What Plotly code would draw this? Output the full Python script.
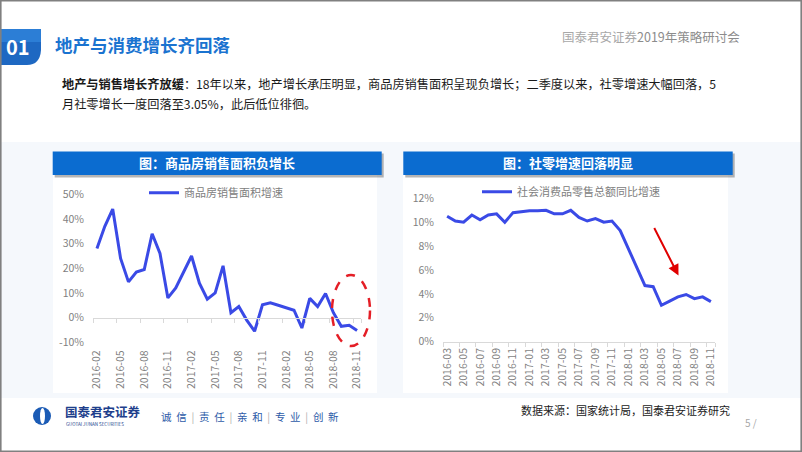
import plotly.graph_objects as go

# ---------------- data ----------------
left_months = ["2016-02", "2016-03", "2016-04", "2016-05", "2016-06", "2016-07", "2016-08", "2016-09",
               "2016-10", "2016-11", "2016-12", "2017-01", "2017-02", "2017-03", "2017-04", "2017-05",
               "2017-06", "2017-07", "2017-08", "2017-09", "2017-10", "2017-11", "2017-12", "2018-01",
               "2018-02", "2018-03", "2018-04", "2018-05", "2018-06", "2018-07", "2018-08", "2018-09",
               "2018-10", "2018-11"]
housing_area_growth = [28, 37, 44, 24, 14.5, 18.5, 19.5, 34, 26, 8, 12, 18.5, 25, 14, 7.5, 10,
                       21, 2, 4.5, -1, -5.5, 5.2, 6, 5, 4, 3, -4.2, 7.8, 4.5, 9.8, 2, -3.5,
                       -3.1, -5.2]
left_tickvals = ["2016-02", "2016-05", "2016-08", "2016-11", "2017-02", "2017-05", "2017-08",
                 "2017-11", "2018-02", "2018-05", "2018-08", "2018-11"]
left_yticks = [-10, 0, 10, 20, 30, 40, 50]
left_ylabels = ["-10%", "0%", "10%", "20%", "30%", "40%", "50%"]

right_months = ["2016-03", "2016-04", "2016-05", "2016-06", "2016-07", "2016-08", "2016-09", "2016-10",
                "2016-11", "2016-12", "2017-01", "2017-02", "2017-03", "2017-04", "2017-05", "2017-06",
                "2017-07", "2017-08", "2017-09", "2017-10", "2017-11", "2017-12", "2018-01", "2018-02",
                "2018-03", "2018-04", "2018-05", "2018-06", "2018-07", "2018-08", "2018-09", "2018-10",
                "2018-11"]
retail_growth = [10.5, 10.1, 10.0, 10.6, 10.2, 10.6, 10.7, 10.0, 10.8, 10.9, 10.95, 10.95, 11.0,
                 10.7, 10.7, 11.0, 10.4, 10.1, 10.3, 10.0, 10.1, 9.3, 7.8, 6.2, 4.7, 4.6, 3.05,
                 3.4, 3.75, 3.95, 3.6, 3.75, 3.35]
right_tickvals = ["2016-03", "2016-05", "2016-07", "2016-09", "2016-11", "2017-01", "2017-03",
                  "2017-05", "2017-07", "2017-09", "2017-11", "2018-01", "2018-03", "2018-05",
                  "2018-07", "2018-09", "2018-11"]
right_yticks = [0, 2, 4, 6, 8, 10, 12]
right_ylabels = ["0%", "2%", "4%", "6%", "8%", "10%", "12%"]

left_series_name = "商品房销售面积增速"
right_series_name = "社会消费品零售总额同比增速"
motto_words = ["诚信", "责任", "亲和", "专业", "创新"]

# ---------------- helpers ----------------
W, H = 802, 452
FONT = "Noto Sans CJK SC"
LINE_BLUE = "#3A4AE6"
BAR_BLUE = "#0B6CD0"
TICK_GREY = "#7f7f7f"
AXIS_GREY = "#D9D9D9"


def X(px):
    return px / W


def Y(py):
    return 1 - py / H


LEFT_YRANGE = [-10, 50]
LEFT_YDOM = [Y(342.3), Y(194.3)]
# paper position of the 0% level on the left chart (for the category axis line with ticks)
zero_pos = LEFT_YDOM[0] + (0 - LEFT_YRANGE[0]) / (LEFT_YRANGE[1] - LEFT_YRANGE[0]) * (LEFT_YDOM[1] - LEFT_YDOM[0])

fig = go.Figure()

fig.add_trace(go.Scatter(x=left_months, y=housing_area_growth, mode="lines",
                         line=dict(color=LINE_BLUE, width=3), name=left_series_name,
                         xaxis="x", yaxis="y", legend="legend"))
# invisible copy that drives the 0%-level axis line carrying the tick marks
fig.add_trace(go.Scatter(x=left_months, y=housing_area_growth, mode="lines", opacity=0,
                         line=dict(width=0), showlegend=False, hoverinfo="skip",
                         xaxis="x3", yaxis="y"))
fig.add_trace(go.Scatter(x=right_months, y=retail_growth, mode="lines",
                         line=dict(color=LINE_BLUE, width=3), name=right_series_name,
                         xaxis="x2", yaxis="y2", legend="legend2"))

axis_font = dict(family=FONT, size=10.5, color=TICK_GREY)

shapes = []
# slide background tint
shapes.append(dict(type="rect", xref="paper", yref="paper", x0=X(0), x1=X(802), y0=Y(398), y1=Y(142),
                   fillcolor="#F5F8FC", line=dict(width=0), layer="below"))
# white panels
for x0, x1 in [(53, 377), (403, 728)]:
    shapes.append(dict(type="rect", xref="paper", yref="paper", x0=X(x0), x1=X(x1), y0=Y(393), y1=Y(175),
                       fillcolor="white", line=dict(width=0), layer="below"))
# blue title bars with shadow
for x0, x1 in [(52.7, 381.7), (403.3, 732.7)]:
    shapes.append(dict(type="rect", xref="paper", yref="paper", x0=X(x0 + 2), x1=X(x1 + 2),
                       y0=Y(177.5), y1=Y(153.5), fillcolor="rgba(90,90,90,0.45)", line=dict(width=0),
                       layer="below"))
    shapes.append(dict(type="rect", xref="paper", yref="paper", x0=X(x0), x1=X(x1),
                       y0=Y(175), y1=Y(151.5), fillcolor=BAR_BLUE, line=dict(width=0), layer="below"))
# "01" badge
shapes.append(dict(type="path", xref="paper", yref="paper",
                   path="M %f %f L %f %f L %f %f Q %f %f %f %f L %f %f Z" % (
                       X(0), Y(29), X(41), Y(29), X(41), Y(50), X(40), Y(65), X(27), Y(65), X(0), Y(65)),
                   fillcolor="#1E68C2", line=dict(width=0), layer="below"))
shapes.append(dict(type="path", xref="paper", yref="paper",
                   path="M %f %f L %f %f L %f %f L %f %f Z" % (X(0), Y(29), X(41), Y(29), X(41), Y(42), X(0), Y(42)),
                   fillcolor="#2C7ED6", line=dict(width=0), layer="below"))
# red dashed ellipse
shapes.append(dict(type="circle", xref="paper", yref="paper", x0=X(332), x1=X(370), y0=Y(346), y1=Y(275),
                   line=dict(color="#E41E26", width=2.5, dash="dash"), layer="above"))
# footer logo
shapes.append(dict(type="circle", xref="paper", yref="paper", x0=X(33), x1=X(51), y0=Y(425), y1=Y(407),
                   fillcolor="#1B5BB5", line=dict(width=0)))
shapes.append(dict(type="circle", xref="paper", yref="paper", x0=X(40), x1=X(45), y0=Y(424), y1=Y(408),
                   fillcolor="white", line=dict(width=0)))
# slide border
shapes.append(dict(type="rect", xref="paper", yref="paper", x0=X(0.8), x1=X(801.2), y0=Y(451.2), y1=Y(0.8),
                   line=dict(color="#808080", width=1.6), fillcolor="rgba(0,0,0,0)"))

ann = []


def text(x, y, s, size, color, xanchor="left", bold=False, family=FONT):
    ann.append(dict(xref="paper", yref="paper", x=X(x), y=Y(y), text=("<b>%s</b>" % s) if bold else s,
                    showarrow=False, xanchor=xanchor, yanchor="middle",
                    font=dict(family=family, size=size, color=color)))


text(18, 46.5, "01", 20, "white", xanchor="center", bold=True)
text(53, 44, "地产与消费增长齐回落", 17.5, "#1A73D0", bold=True)
text(560, 37, "<span style='color:#a8a8a8'>国泰君安证券</span>2019年策略研讨会", 12.5, "#8c8c8c")
text(60, 83.5, "<b>地产与销售增长齐放缓</b>：18年以来，地产增长承压明显，商品房销售面积呈现负增长；二季度以来，社零增速大幅回落，5",
     12.2, "#1a1a1a")
text(60, 104.5, "月社零增长一度回落至3.05%，此后低位徘徊。", 12.2, "#1a1a1a")
text(217, 162.5, "图：商品房销售面积负增长", 13, "white", xanchor="center", bold=True)
text(568, 162.5, "图：社零增速回落明显", 13, "white", xanchor="center", bold=True)
# footer
text(63, 411.5, "国泰君安证券", 12.5, "#1E3F8C", bold=True)
text(64, 424.3, "GUOTAI JUNAN SECURITIES", 4.5, "#1E3F8C")
gap = "&nbsp;&nbsp;"
sep = gap + "<span style='color:#b0b0b0'>|</span>" + gap
motto = sep.join(w[0] + gap + w[1] for w in motto_words)
text(159, 416, motto, 10.5, "#2D5BA8")
text(519, 410, "数据来源：国家统计局，国泰君安证券研究", 11, "#222222")
text(743, 422, "5 /", 10, "#a8a8a8")
# red arrow
ann.append(dict(xref="paper", yref="paper", x=X(678.5), y=Y(275.5), ax=-25, ay=-49, axref="pixel",
                ayref="pixel", showarrow=True, arrowhead=2, arrowsize=1.1, arrowwidth=2,
                arrowcolor="#E00000", text=""))

fig.update_layout(
    width=W, height=H, margin=dict(l=0, r=0, t=0, b=0, pad=0, autoexpand=False),
    paper_bgcolor="white", plot_bgcolor="rgba(0,0,0,0)",
    font=dict(family=FONT),
    showlegend=True,
    xaxis=dict(domain=[X(93), X(361)], anchor="y", type="category", categoryorder="array",
               categoryarray=left_months, range=[-0.5, len(left_months) - 0.5],
               tickmode="array", tickvals=left_tickvals, tickangle=-90, tickfont=axis_font,
               showgrid=False, showline=False, zeroline=False, ticks="", ticklabelstandoff=5,
               automargin=False),
    xaxis3=dict(domain=[X(93), X(361)], overlaying="x", anchor="free", position=zero_pos,
                type="category", categoryorder="array", categoryarray=left_months,
                range=[-0.5, len(left_months) - 0.5], tickmode="array", tickvals=left_tickvals,
                showticklabels=False, showgrid=False, zeroline=False, showline=True,
                linecolor=AXIS_GREY, linewidth=1.2, ticks="outside", ticklen=4, tickcolor=AXIS_GREY,
                tickson="boundaries", automargin=False),
    yaxis=dict(domain=LEFT_YDOM, anchor="x", range=LEFT_YRANGE, tickmode="array",
               tickvals=left_yticks, ticktext=left_ylabels, tickfont=axis_font, showgrid=False,
               zeroline=False, showline=False, ticklabelstandoff=8, automargin=False),
    xaxis2=dict(domain=[X(443), X(715)], anchor="y2", type="category", categoryorder="array",
                categoryarray=right_months, range=[-0.5, len(right_months) - 0.5],
                tickmode="array", tickvals=right_tickvals, tickangle=-90, tickfont=axis_font,
                showgrid=False, showline=True, linecolor=AXIS_GREY, linewidth=1.2, zeroline=False,
                ticks="outside", ticklen=4, tickcolor=AXIS_GREY, tickson="boundaries",
                ticklabelstandoff=1, automargin=False),
    yaxis2=dict(domain=[Y(341.7), Y(198.3)], anchor="x2", range=[0, 12], tickmode="array",
                tickvals=right_yticks, ticktext=right_ylabels, tickfont=axis_font, showgrid=False,
                zeroline=False, showline=False, ticklabelstandoff=8, automargin=False),
    legend=dict(x=X(144), y=Y(192.7), xanchor="left", yanchor="middle", bgcolor="rgba(0,0,0,0)",
                font=dict(family=FONT, size=11, color="#808080")),
    legend2=dict(x=X(477), y=Y(191.7), xanchor="left", yanchor="middle", bgcolor="rgba(0,0,0,0)",
                 font=dict(family=FONT, size=11, color="#808080")),
    shapes=shapes,
    annotations=ann,
)

fig.write_html("out.html")
